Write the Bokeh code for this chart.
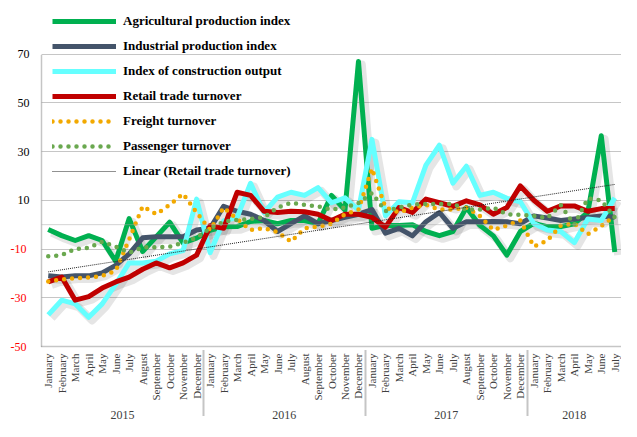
import math
import numpy as np
from bokeh.plotting import figure
from bokeh.models import (FactorRange, Range1d, ColumnDataSource, Legend, LegendItem,
                          FixedTicker, LinearAxis, Span, CustomJSTickFormatter)
from bokeh.transform import dodge
from bokeh.embed import file_html
from bokeh.resources import INLINE

# ---------------- data ----------------
month_names = ["January", "February", "March", "April", "May", "June", "July",
               "August", "September", "October", "November", "December"]
years = ["2015"] * 12 + ["2016"] * 12 + ["2017"] * 12 + ["2018"] * 7
months = month_names * 3 + month_names[:7]

agricultural = [-2, -4.5, -6.5, -4.5, -6.5, -15, 2.5, -11, -5, 1, -7.5, -5.5,
                -2.3, -0.9, -0.8, 1.3, 1.7, 0.4, 1.7, 1.7, 0.4, 12, 6, 67,
                -1.5, -0.3, -0.3, 0, -2.8, -4.5, -2.8, 7, -0.3, -4.6, -12.5, -2.8,
                0.5, -0.8, -0.8, 0.4, 5, 36.5, -11.2]
industrial = [-21, -21.5, -21, -21, -19.8, -16.7, -12, -5.4, -5, -5, -5, -2.2,
              -1.5, 7.5, 5.5, 4.3, 1.7, -2.8, 0.4, 3.6, 0.4, 1.7, 3, 4.3,
              6.2, -3.5, -1.5, -4.6, 1.2, 5, -1.5, 1.2, 1.2, 1.3, 1.2, 0.4,
              3.6, 2.7, 1.7, 2.3, 3, 3.6, 3]
construction = [-37, -31, -32.5, -38, -32.5, -24.5, -15.7, -15.7, -15, -12, -10.6, 10.5,
                -11.5, 1.5, 3, 17, 5, 11.3, 13.3, 12, 15.2, 9, 11, 6,
                35, 3.6, 9.4, 9, 24.4, 32.6, 17, 24, 12, 13.3, 10.8, 9.4,
                0.5, -2.2, -2.8, -7.4, 2.3, 1.7, 11]
retail = [-23.5, -21.5, -31, -29.5, -26, -23.5, -21.5, -18.3, -15.7, -17.7, -15.7, -12.5,
          -0.5, -1.5, 13.3, 12, 5.5, 5, 5.5, 5.3, 4.3, 1.7, 4.3, 4.3,
          3, -1, 7, 5, 10.5, 9, 7.5, 9.8, 8.1, 4.3, 7, 15.9,
          10, 5.5, 7.7, 7.7, 5.5, 6.6, 6.6]
freight = [-23.3, -22.5, -22, -21.7, -21, -19, -6, 7.5, 4.3, 8.1, 12.7, 5,
           -2.2, 7, 2.3, -2.2, -1.5, -3, -7, -1.5, -0.8, 0.4, 4.3, 6.2,
           23, 7, 5, 7, 8.1, 6.2, 6.2, 7, 3.6, -2.2, -0.3, 1.7,
           -9, -6.5, -0.4, 0.4, -3.9, -0.6, 3.5]
passenger = [-13, -12.5, -10, -9.5, -7, -9, -11.5, -9.3, -9.3, -9, -7.4, -5.4,
             -1.5, 1.2, 2, 2.3, 3, 7, 9, 8.1, 7.5, 6.2, 7, 8.9,
             13, 5.5, 7, 8.3, 8.5, 8.5, 8.5, 6.2, 6.2, 7, 4.3, 4,
             3.6, 2.7, 8, 0, 10.8, 10, 3]
y_ticks = [-50, -30, -10, 10, 30, 50, 70]

# linear trend of retail trade turnover (least squares, as in the original chart)
idx = np.arange(len(retail))
slope, intercept = np.polyfit(idx, retail, 1)
trend = list(slope * idx + intercept)

factors = list(zip(years, months))
src = ColumnDataSource(dict(x=factors, agr=agricultural, ind=industrial, con=construction,
                            ret=retail, fre=freight, pas=passenger, tr=trend))

# ---------------- figure ----------------
p = figure(width=621, height=421,
           x_range=FactorRange(*factors, factor_padding=0, group_padding=0, range_padding=0),
           y_range=Range1d(-50, 92),
           output_backend="svg", toolbar_location=None,
           min_border_left=41, min_border_right=0, min_border_top=0, min_border_bottom=0)
p.outline_line_color = None
p.background_fill_color = "white"

serif = "Liberation Serif"
grey = "#8C8C8C"

# y axis (inner): positive labels, black
ya = p.yaxis[0]
ya.ticker = FixedTicker(ticks=y_ticks)
ya.bounds = (-50, 70)
ya.formatter = CustomJSTickFormatter(code="return tick > 0 ? String(tick) : '';")
ya.major_label_text_font = serif
ya.major_label_text_font_size = "12px"
ya.major_label_text_color = "#000000"
ya.major_label_standoff = 12
ya.axis_line_color = grey
ya.axis_line_dash = "1 1"
ya.axis_line_width = 1.5
ya.major_tick_line_color = None
ya.major_tick_out = 0
ya.major_tick_in = 0
ya.minor_tick_line_color = None
ya.minor_tick_out = 0

# y axis (outer): negative labels in red, pulled back onto the same column
ya2 = LinearAxis(ticker=FixedTicker(ticks=y_ticks), bounds=(-50, 70),
                 formatter=CustomJSTickFormatter(code="return tick < 0 ? String(tick) : '';"),
                 major_label_text_color="#FF0000", major_label_text_font=serif,
                 major_label_text_font_size="12px", major_label_standoff=-12,
                 axis_line_color=None, major_tick_line_color=None, major_tick_out=0,
                 major_tick_in=0, minor_tick_line_color=None, minor_tick_out=0)
p.add_layout(ya2, "left")

p.ygrid.ticker = FixedTicker(ticks=y_ticks)
p.ygrid.grid_line_color = grey
p.ygrid.grid_line_dash = "1 1"
p.ygrid.grid_line_width = 1
p.xgrid.grid_line_color = None

p.add_layout(Span(location=0, dimension="width", line_color="#A6A6A6",
                  line_dash="1 1", line_width=1))

xa = p.xaxis[0]
xa.major_label_orientation = math.pi / 2
xa.major_label_text_font = serif
xa.major_label_text_font_size = "11px"
xa.major_label_text_color = "#404040"
xa.major_label_standoff = 7
xa.group_text_font = serif
xa.group_text_font_size = "12px"
xa.group_text_font_style = "normal"
xa.group_text_color = "#404040"
xa.axis_line_color = grey
xa.axis_line_dash = "1 1"
xa.axis_line_width = 1.5
xa.major_tick_line_color = None
xa.major_tick_out = 0
xa.major_tick_in = 0
xa.separator_line_color = grey
xa.separator_line_dash = "1 1"

# ---------------- series ----------------
solid = [("agr", "#00B050"), ("ind", "#44546A"), ("con", "#66FFFF"), ("ret", "#C00000")]
for col, _c in solid:
    p.line(x=dodge("x", 0.25, range=p.x_range), y=dodge(col, -1.3), source=src,
           line_color="black", line_alpha=0.10, line_width=8, line_join="round")

r_agr = p.line("x", "agr", source=src, line_color="#00B050", line_width=5, line_join="round")
r_ind = p.line("x", "ind", source=src, line_color="#44546A", line_width=5, line_join="round")
r_con = p.line("x", "con", source=src, line_color="#66FFFF", line_width=5, line_join="round")
r_ret = p.line("x", "ret", source=src, line_color="#C00000", line_width=5, line_join="round")
r_fre = p.line("x", "fre", source=src, line_color="#F2A900", line_width=4.5,
               line_dash="0 8", line_cap="round")
r_pas = p.line("x", "pas", source=src, line_color="#6AA84F", line_width=4.5,
               line_dash="0 8", line_cap="round")
r_tr = p.line("x", "tr", source=src, line_color="#222222", line_width=1, line_dash="1 1")

legend = Legend(items=[
    LegendItem(label="Agricultural production index", renderers=[r_agr]),
    LegendItem(label="Industrial production index", renderers=[r_ind]),
    LegendItem(label="Index of construction output", renderers=[r_con]),
    LegendItem(label="Retail trade turnover", renderers=[r_ret]),
    LegendItem(label="Freight turnover", renderers=[r_fre]),
    LegendItem(label="Passenger turnover", renderers=[r_pas]),
    LegendItem(label="Linear (Retail trade turnover)", renderers=[r_tr]),
], location="top_left")
legend.padding = 8
legend.margin = 11
legend.spacing = 5
legend.glyph_width = 64
legend.glyph_height = 20
legend.label_height = 20
legend.label_standoff = 7
legend.label_text_font = serif
legend.label_text_font_style = "bold"
legend.label_text_font_size = "13px"
legend.label_text_color = "#000000"
legend.background_fill_alpha = 0
legend.border_line_color = None
p.add_layout(legend)

open("out.html", "w").write(file_html(p, INLINE))
